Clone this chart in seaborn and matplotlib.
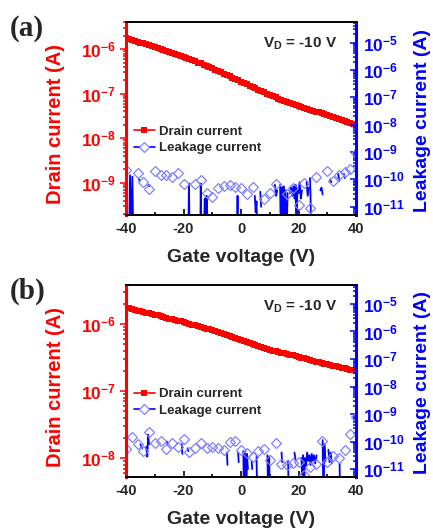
"""Drain / leakage current vs gate voltage, two panels (a) and (b)."""

import numpy as np
import pandas as pd
import matplotlib

matplotlib.use("Agg")
import matplotlib.pyplot as plt
from matplotlib.lines import Line2D
from matplotlib.ticker import FixedLocator, FuncFormatter, LogLocator, NullFormatter
import seaborn as sns

# ---- data (log10 of current in A) ----
GATE_V = list(range(-40, 41))          # drain current sampled every 1 V
DIAMOND_V = list(range(-40, 41, 2))    # leakage markers every 2 V

DRAIN_A_LOG = [
    -5.75, -5.77, -5.79, -5.81, -5.83, -5.85, -5.87, -5.89, -5.91, -5.93, -5.95,
    -5.97, -5.99, -6.02, -6.04, -6.06, -6.08, -6.10, -6.13, -6.15, -6.17,
    -6.19, -6.22, -6.25, -6.27, -6.30, -6.32, -6.35, -6.38, -6.40, -6.43,
    -6.46, -6.49, -6.52, -6.55, -6.58, -6.61, -6.64, -6.67, -6.70, -6.73,
    -6.76, -6.79, -6.82, -6.85, -6.88, -6.91, -6.94, -6.97, -7.00, -7.03,
    -7.06, -7.08, -7.11, -7.13, -7.16, -7.18, -7.21, -7.23, -7.26, -7.28,
    -7.30, -7.32, -7.34, -7.36, -7.38, -7.40, -7.42, -7.44, -7.46, -7.48,
    -7.50, -7.52, -7.54, -7.56, -7.58, -7.61, -7.63, -7.65, -7.67, -7.69,
]
DRAIN_B_LOG = [
    -5.76, -5.77, -5.78, -5.79, -5.80, -5.81, -5.82, -5.83, -5.84, -5.85, -5.86,
    -5.87, -5.88, -5.90, -5.91, -5.92, -5.93, -5.94, -5.95, -5.96, -5.97,
    -5.98, -6.00, -6.01, -6.02, -6.03, -6.05, -6.06, -6.07, -6.08, -6.09,
    -6.11, -6.12, -6.14, -6.15, -6.17, -6.18, -6.20, -6.21, -6.23, -6.24,
    -6.26, -6.27, -6.29, -6.30, -6.32, -6.33, -6.35, -6.36, -6.38, -6.39,
    -6.40, -6.41, -6.42, -6.43, -6.44, -6.45, -6.46, -6.47, -6.48, -6.49,
    -6.50, -6.51, -6.52, -6.53, -6.55, -6.56, -6.57, -6.58, -6.59, -6.60,
    -6.61, -6.62, -6.63, -6.64, -6.65, -6.66, -6.67, -6.68, -6.69, -6.70,
]

nan = np.nan
LEAK_A_DIAMOND_LOG = [
    -9.65, nan, -9.77, -10.08, -10.36, -9.69, -9.85, -9.85, -9.90, -9.75, -10.17,
    nan, -10.17, -10.03, -10.50, -10.63, -10.32, -10.24, -10.20, -10.26, -10.32,
    -10.52, -10.27, nan, -10.72, -10.48, -10.17, nan, -10.52, -10.30, -10.93,
    -10.12, -11.03, -9.93, nan, -9.69, -10.05, -9.84, -9.72, -9.63, -9.03,
]
LEAK_B_DIAMOND_LOG = [
    -10.27, -9.84, -10.09, -10.35, -9.65, -10.05, -9.98, -10.27, -10.05, -10.20, -9.91,
    -10.38, -10.24, -10.05, -10.24, -10.20, -10.24, -10.30, -10.02, -9.98, -10.31,
    -10.41, -10.55, -10.33, -10.28, -10.67, -10.04, -10.82, -10.85, -10.79, -10.73,
    -11.20, -10.94, -10.82, -9.97, -10.73, -10.53, -10.59, -10.31, -9.73, -9.11,
]

# raw leakage trace; NaN marks a break (negative current not shown on log axis)
LEAK_A_LINE_V = [
    -39.0, -38.6, -38.2, -37.8, -37.4, nan,
    -35.5, -35.2, nan, -32.2, -32.0, nan,
    -18.4, -18.1, -17.8, nan, -14.2, -14.0, -13.8, nan,
    -12.8, -12.6, -12.3, -12.0, -11.7, nan, -1.4, -1.2, -1.0, nan,
    4.8, 5.1, 5.4, 5.8, nan, 6.7, 7.0, nan, 11.8, 12.2, 12.6, nan,
    13.6, 13.9, 14.2, 14.5, 14.8, 15.1, 15.4, 15.8, 16.2, nan,
    17.0, 17.4, 17.8, 18.2, 18.6, 19.0, 19.3, 19.6, 20.0, 20.4, 20.8, 21.2, nan,
    22.8, 23.2, 23.6, nan, 24.0, 24.2, 24.5, nan, 27.6, 28.0, 28.4, nan,
    31.0, 31.4, nan, 33.8, 34.2, nan, 35.8, 36.1,
]
LEAK_A_LINE_LOG = [
    -12.5, -9.85, -12.5, -9.90, -12.5, nan,
    -10.0, -10.05, nan, -10.2, -10.25, nan,
    -12.5, -10.15, -12.5, nan, -12.5, -10.15, -12.5, nan,
    -11.5, -10.7, -12.5, -10.6, -11.3, nan, -12.5, -10.6, -12.5, nan,
    -10.6, -11.2, -10.8, -12.5, nan, -10.45, -11.0, nan, -10.2, -10.6, -10.4, nan,
    -10.2, -12.5, -10.3, -12.5, -10.25, -12.5, -10.4, -12.5, -10.5, nan,
    -10.5, -10.3, -10.6, -10.25, -10.7, -10.2, -12.5, -10.35, -10.5, -10.1, -10.7, -10.4, nan,
    -10.1, -10.6, -10.3, nan, -9.95, -10.7, -12.5, nan, -10.4, -10.3, -10.55, nan,
    -10.0, -10.1, nan, -9.8, -10.05, nan, -9.8, -9.95,
]
LEAK_B_LINE_V = [
    -35.0, -34.4, nan, -33.0, -32.6, -32.3, -32.0, nan,
    -25.8, -25.5, nan, -20.6, -20.4, nan, -18.6, -18.3, nan,
    -4.9, -4.7, nan, -1.0, -0.8, nan,
    0.8, 1.1, 1.4, 1.8, 2.1, 2.4, nan, 3.7, 3.9, nan, 5.4, 5.7, nan,
    9.2, 9.5, 9.8, 10.1, nan, 14.1, 14.3, nan, 16.4, 16.6, nan, 18.6, 19.0, nan,
    21.0, 21.3, 21.6, 21.9, 22.2, 22.6, 23.0, 23.4, 23.8, 24.2, 24.6, 25.0, 25.4, 25.8, 26.3, nan,
    28.4, 28.7, 29.0, 29.4, nan, 30.4, 30.8, 31.2, 31.6, nan, 34.3, 34.5,
]
LEAK_B_LINE_LOG = [
    -10.1, -10.25, nan, -10.2, -10.55, -9.75, -10.1, nan,
    -10.0, -10.1, nan, -10.1, -10.45, nan, -10.25, -10.35, nan,
    -10.4, -10.85, nan, -10.4, -10.75, nan,
    -10.35, -12.5, -10.4, -12.5, -10.45, -11.0, nan, -10.7, -11.0, nan, -10.55, -12.5, nan,
    -10.5, -12.5, -10.55, -12.5, nan, -10.4, -10.75, nan, -10.7, -12.5, nan, -10.4, -10.7, nan,
    -10.6, -11.2, -10.5, -12.5, -10.6, -10.9, -10.4, -10.7, -10.5, -10.85, -10.45, -10.7, -10.5, -10.8, -10.5, nan,
    -9.95, -12.5, -10.1, -10.7, nan, -10.3, -10.75, -10.4, -10.8, nan, -10.8, -12.5,
]

RED = "#ff0000"
BLUE = "#0000ff"
DIAMOND = "#8080ff"

sns.set_style("ticks")
plt.rcParams["font.family"] = ["Liberation Sans", "DejaVu Sans"]
plt.rcParams["font.weight"] = "bold"
plt.rcParams["axes.unicode_minus"] = False
plt.rcParams["mathtext.fontset"] = "custom"
plt.rcParams["mathtext.bf"] = "Liberation Sans:bold"
plt.rcParams["mathtext.rm"] = "Liberation Sans:bold"
plt.rcParams["mathtext.it"] = "Liberation Sans:bold"

decade_fmt = FuncFormatter(lambda v, p: r"$\mathbf{10^{%d}}$" % int(round(np.log10(v))))


def segments(xs, ys):
    df = pd.DataFrame({"v": xs, "log": ys})
    df["seg"] = df["v"].isna().cumsum()
    df = df.dropna()
    df["i"] = 10.0 ** df["log"]
    return df


def draw_panel(ax, letter, drain_log, leak_diamond_log, line_v, line_log,
               left_lim, right_lim, label_y):
    ax2 = ax.twinx()

    drain = pd.DataFrame({"v": GATE_V, "i": 10.0 ** np.array(drain_log)})
    sns.lineplot(data=drain, x="v", y="i", ax=ax, color=RED, lw=1.2,
                 marker="s", markersize=4.4, markeredgewidth=0,
                 markeredgecolor=RED, estimator=None, sort=False)

    trace = segments(line_v, line_log)
    sns.lineplot(data=trace, x="v", y="i", units="seg", estimator=None,
                 sort=False, ax=ax2, color=BLUE, lw=1.3)
    dia = pd.DataFrame({"v": DIAMOND_V, "i": 10.0 ** np.array(leak_diamond_log)}).dropna()
    sns.lineplot(data=dia, x="v", y="i", ax=ax2, linestyle="none", marker="D",
                 markersize=5, markerfacecolor="none", markeredgecolor=DIAMOND,
                 markeredgewidth=0.9, estimator=None, sort=False)

    for a in (ax, ax2):
        a.set_yscale("log")
        a.set_xlim(-40, 40)
    ax.set_ylim(10 ** left_lim[0], 10 ** left_lim[1])
    ax2.set_ylim(10 ** right_lim[0], 10 ** right_lim[1])

    ax.set_xticks([-40, -20, 0, 20, 40])
    ax.xaxis.set_minor_locator(FixedLocator([-30, -10, 10, 30]))
    ax.tick_params(axis="x", which="both", direction="in", labelsize=10.5,
                   pad=5, width=1.2, color="black")
    ax.tick_params(axis="x", which="major", length=4)
    ax.tick_params(axis="x", which="minor", length=2.5)

    for a, color, side_dir in ((ax, RED, "out"), (ax2, BLUE, "in")):
        a.yaxis.set_major_locator(LogLocator(base=10, numticks=20))
        a.yaxis.set_minor_locator(LogLocator(base=10, subs=range(2, 10), numticks=20))
        a.yaxis.set_minor_formatter(NullFormatter())
        a.yaxis.set_major_formatter(decade_fmt)
        a.tick_params(axis="y", which="both", colors=color, direction=side_dir,
                      labelsize=12.5, width=1.1)
        a.tick_params(axis="y", which="major", length=4, pad=3)
        a.tick_params(axis="y", which="minor", length=2)
    ax2.tick_params(axis="y", which="major", pad=5)

    ax2.spines["left"].set_color(RED)
    ax2.spines["left"].set_linewidth(2.2)
    ax2.spines["right"].set_color(BLUE)
    ax2.spines["right"].set_linewidth(2.2)
    for s in ("top", "bottom"):
        ax2.spines[s].set_visible(True)
        ax2.spines[s].set_color("black")
        ax2.spines[s].set_linewidth(1.4)
    for s in ax.spines.values():
        s.set_visible(False)

    ax.set_ylabel("Drain current (A)", color=RED, fontsize=14.5, fontweight="bold")
    ax.yaxis.set_label_coords(-0.265, 0.47)
    ax2.set_ylabel("Leakage current (A)", color=BLUE, fontsize=14,
                   fontweight="bold", rotation=90)
    ax2.yaxis.set_label_coords(1.252, 0.49)
    ax.set_xlabel("Gate voltage (V)", fontsize=14, fontweight="bold")
    ax.xaxis.set_label_coords(0.5, label_y)

    ax2.text(0.757, 0.885, r"V$_{\mathbf{D}}$ = -10 V", transform=ax2.transAxes,
             ha="center", va="center", fontsize=11, fontweight="bold")

    handles = [
        Line2D([], [], color=RED, lw=1.2, marker="s", markersize=4.4,
               markeredgewidth=0),
        Line2D([], [], color=BLUE, lw=1.2, marker="D", markersize=5,
               markerfacecolor="white", markeredgecolor=DIAMOND,
               markeredgewidth=0.9),
    ]
    ax2.legend(handles, ["Drain current", "Leakage current"], loc="upper left",
               bbox_to_anchor=(0.01, 0.49), frameon=False,
               handlelength=1.6, handletextpad=0.3, labelspacing=0.3,
               borderaxespad=0, prop={"weight": "bold", "size": 9.5})

    ax.figure.text(ax.get_position().x0 - 0.268, ax.get_position().y1 - 0.012,
                   letter, fontsize=21, fontweight="bold",
                   family=["Liberation Serif", "DejaVu Serif"],
                   ha="left", va="center")
    return ax2


fig = plt.figure(figsize=(4.33, 5.30), dpi=100)
ax_a = fig.add_axes([126 / 433, 1 - 215 / 530, 230 / 433, 193 / 530])
ax_b = fig.add_axes([126 / 433, 1 - 477 / 530, 230 / 433, 192 / 530])

draw_panel(ax_a, "(a)", DRAIN_A_LOG, LEAK_A_DIAMOND_LOG, LEAK_A_LINE_V,
           LEAK_A_LINE_LOG, (-9.72, -5.39), (-11.3, -4.25), -0.176)
draw_panel(ax_b, "(b)", DRAIN_B_LOG, LEAK_B_DIAMOND_LOG, LEAK_B_LINE_V,
           LEAK_B_LINE_LOG, (-8.28, -5.42), (-11.29, -4.31), -0.176)

fig.savefig("out.png", dpi=100)
